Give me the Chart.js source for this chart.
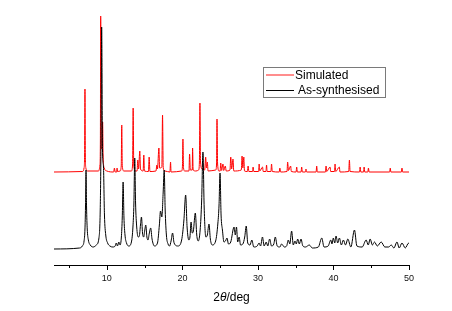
<!DOCTYPE html>
<html>
<head>
<meta charset="utf-8">
<script src="https://cdn.jsdelivr.net/npm/chart.js@4"></script>
<style>
  html, body { margin: 0; padding: 0; background: #fff; }
  #xrd { display: block; }
</style>
</head>
<body>
<canvas id="xrd" width="452" height="311"></canvas>
<script>
// 2theta / intensity pairs (intensity in arbitrary units, offset as plotted)
const simulated = [
  [3, 93],
  [6.8, 93.5], [6.98, 97], [7.05, 110], [7.1, 176], [7.15, 110], [7.22, 97], [7.45, 94],
  [8.9, 94], [9.08, 100], [9.14, 125], [9.18, 249], [9.26, 118], [9.36, 116], [9.44, 143], [9.5, 110], [9.65, 97], [10, 94],
  [10.9, 93], [11.0, 97], [11.1, 93], [11.3, 93], [11.35, 97], [11.42, 93.5],
  [11.75, 94], [11.9, 99], [11.97, 140], [12.04, 99], [12.25, 94],
  [13.25, 94], [13.4, 100], [13.48, 157], [13.56, 100], [13.8, 94],
  [14.0, 94], [14.09, 105], [14.2, 96], [14.36, 114], [14.45, 96], [14.8, 94], [14.89, 110], [14.97, 94],
  [15.5, 93.5], [15.6, 108], [15.7, 93.5],
  [16.5, 94], [16.62, 100], [16.7, 96], [16.89, 117], [16.98, 97], [17.28, 98], [17.37, 150], [17.46, 97], [17.7, 94],
  [18.35, 93], [18.43, 103], [18.5, 93],
  [19.9, 94], [20.0, 98], [20.07, 126], [20.15, 97], [20.3, 94],
  [20.87, 94], [20.95, 111], [21.05, 95], [21.3, 95], [21.35, 117], [21.42, 95], [21.8, 94],
  [22.15, 95], [22.25, 103], [22.32, 162], [22.4, 103], [22.6, 96],
  [22.95, 95], [23.08, 108], [23.18, 97], [23.3, 103], [23.4, 94],
  [24.42, 95], [24.52, 101], [24.58, 146], [24.66, 101], [24.85, 94],
  [25.0, 94], [25.07, 102], [25.2, 94.5], [25.37, 101], [25.47, 94.5], [25.68, 99], [25.8, 94],
  [26.3, 95], [26.4, 108], [26.52, 96], [26.7, 106], [26.8, 94],
  [27.8, 95], [27.9, 109], [28.0, 97], [28.13, 108], [28.22, 94],
  [28.6, 93.5], [28.7, 99], [28.8, 93.5],
  [29.28, 93.5], [29.36, 98], [29.45, 93.5],
  [30.08, 93.5], [30.16, 101], [30.25, 94], [30.61, 98], [30.7, 93.5],
  [31.06, 93.5], [31.14, 100], [31.22, 93.5], [31.72, 93.5], [31.8, 101], [31.9, 93.5],
  [32.82, 93], [32.9, 97], [33.0, 93],
  [33.85, 93.5], [33.93, 103], [34.05, 94.5], [34.33, 99], [34.42, 93.5],
  [35.05, 93], [35.13, 98], [35.22, 93], [35.71, 93], [35.79, 98], [35.88, 93], [36.28, 93], [36.36, 96], [36.45, 93],
  [37.7, 93], [37.78, 99], [37.86, 93],
  [38.94, 93], [39.02, 99], [39.1, 93.5], [39.55, 98], [39.63, 93.5], [40.13, 93.5], [40.21, 101], [40.3, 93.5], [40.78, 98], [40.86, 93],
  [42.02, 93.5], [42.11, 105], [42.2, 93.5],
  [43.45, 93], [43.53, 98], [43.62, 93], [43.98, 93], [44.06, 98], [44.14, 93], [44.55, 93], [44.63, 97], [44.72, 93],
  [47.44, 93], [47.52, 97], [47.6, 93],
  [48.99, 93], [49.07, 97], [49.15, 93],
  [50, 93]
];

const synthesised = [
  [3, 16], [6.4, 17], [6.75, 19], [6.98, 24], [7.1, 36], [7.17, 58], [7.24, 95], [7.31, 58], [7.4, 36], [7.55, 25], [7.8, 20], [8.2, 18],
  [8.6, 20], [8.95, 27], [9.12, 55], [9.22, 120], [9.31, 238], [9.42, 115], [9.55, 98], [9.68, 50], [9.85, 30], [10.1, 22], [10.4, 19],
  [10.8, 18], [11.1, 19], [11.24, 22], [11.4, 19], [11.58, 23], [11.75, 20],
  [11.92, 28], [12.04, 48], [12.15, 83], [12.26, 48], [12.4, 30], [12.6, 22], [12.9, 19],
  [13.25, 23], [13.45, 38], [13.58, 62], [13.69, 107], [13.8, 62], [13.95, 38], [14.15, 28], [14.3, 29], [14.45, 40], [14.58, 48], [14.72, 32], [14.88, 28],
  [15.0, 34], [15.15, 40], [15.3, 28], [15.45, 25], [15.6, 31], [15.8, 37], [15.98, 26], [16.3, 19],
  [16.7, 22], [16.95, 40], [17.1, 54], [17.28, 48], [17.45, 72], [17.59, 95], [17.72, 55], [17.88, 30], [18.1, 21], [18.3, 19],
  [18.5, 24], [18.7, 32], [18.9, 22], [19.4, 19],
  [19.9, 25], [20.2, 45], [20.43, 70], [20.62, 38], [20.85, 25], [21.0, 28], [21.15, 43], [21.3, 32], [21.45, 34], [21.71, 52], [21.9, 30], [22.1, 24],
  [22.35, 35], [22.55, 65], [22.72, 113], [22.88, 58], [23.1, 28], [23.3, 30], [23.52, 41], [23.7, 26], [23.95, 20],
  [24.4, 24], [24.7, 42], [24.85, 60], [24.98, 92], [25.12, 50], [25.3, 35], [25.5, 23], [25.7, 24], [25.9, 27], [26.1, 21],
  [26.4, 23], [26.84, 38], [27.0, 30], [27.16, 38], [27.32, 23], [27.51, 28], [27.7, 20], [28.0, 21], [28.25, 28], [28.45, 39], [28.65, 22],
  [28.95, 20], [29.19, 25], [29.45, 18], [29.9, 19], [30.15, 22], [30.35, 19], [30.6, 28], [30.82, 19], [31.1, 23], [31.3, 19], [31.55, 26], [31.8, 19],
  [32.1, 21], [32.3, 28], [32.55, 19], [32.9, 18], [33.13, 21], [33.5, 18], [33.8, 19], [34.02, 25], [34.22, 21], [34.46, 34], [34.68, 20],
  [34.9, 24], [35.08, 21], [35.26, 26], [35.48, 21], [35.7, 26], [35.95, 19], [36.3, 18], [36.8, 20], [37.2, 17],
  [38.0, 18], [38.45, 27], [38.75, 18], [39.3, 19], [39.64, 25], [39.8, 21], [39.99, 27], [40.17, 22], [40.34, 29], [40.56, 22], [40.78, 27],
  [41.05, 20], [41.31, 25], [41.6, 20], [41.9, 26], [42.3, 18], [42.78, 35], [43.1, 19], [43.8, 18], [44.33, 25], [44.6, 20], [44.86, 26],
  [45.15, 20], [45.43, 23], [45.8, 19], [46.32, 23], [46.8, 18], [47.3, 18], [47.65, 20], [48.0, 17], [48.41, 23], [48.7, 17],
  [49.07, 22], [49.5, 17], [49.95, 22], [50, 21]
];

const seriesNames = ['Simulated', 'As-synthesised'];
const majorTicks = [10, 20, 30, 40, 50];
const minorTicks = [5, 15, 25, 35, 45];

const FONT = '"Liberation Sans", Arial, sans-serif';

// ticks, axis title and the boxed legend, drawn like the Origin original
const decorations = {
  id: 'decorations',
  afterDraw(chart) {
    const ctx = chart.ctx;
    const xs = chart.scales.x;
    const bottom = chart.chartArea.bottom;
    ctx.save();
    ctx.strokeStyle = '#000';
    ctx.lineWidth = 1;
    ctx.beginPath();
    majorTicks.forEach(v => {
      const px = Math.round(xs.getPixelForValue(v)) + 0.5;
      ctx.moveTo(px, bottom); ctx.lineTo(px, bottom + 5);
    });
    minorTicks.forEach(v => {
      const px = Math.round(xs.getPixelForValue(v)) + 0.5;
      ctx.moveTo(px, bottom); ctx.lineTo(px, bottom + 3);
    });
    ctx.stroke();

    // axis title: 2θ/deg with italic theta
    ctx.fillStyle = '#000';
    ctx.textBaseline = 'middle';
    const parts = [['2', '12px ' + FONT], ['θ', 'italic 12px ' + FONT], ['/deg', '12px ' + FONT]];
    let total = 0;
    parts.forEach(p => { ctx.font = p[1]; total += ctx.measureText(p[0]).width; });
    let tx = (chart.chartArea.left + chart.chartArea.right) / 2 - total / 2;
    parts.forEach(p => {
      ctx.font = p[1];
      ctx.fillText(p[0], tx, 298);
      tx += ctx.measureText(p[0]).width;
    });

    // legend box
    ctx.strokeStyle = '#7a7a7a';
    ctx.strokeRect(263.5, 67.5, 122, 30);
    ctx.lineWidth = 1.3;
    ctx.strokeStyle = '#ff5050';
    ctx.beginPath(); ctx.moveTo(266, 75); ctx.lineTo(294, 75); ctx.stroke();
    ctx.lineWidth = 1;
    ctx.strokeStyle = '#000';
    ctx.beginPath(); ctx.moveTo(266, 90.5); ctx.lineTo(294, 90.5); ctx.stroke();
    ctx.font = '12px ' + FONT;
    ctx.fillText(seriesNames[0], 295, 75.5);
    ctx.fillText(seriesNames[1], 298, 90.5);
    ctx.restore();
  }
};

new Chart(document.getElementById('xrd'), {
  type: 'line',
  data: {
    datasets: [
      {
        label: seriesNames[0],
        data: simulated.map(p => ({ x: p[0], y: p[1] })),
        borderColor: '#ff0000',
        borderWidth: 1,
        pointRadius: 0,
        cubicInterpolationMode: 'monotone',
        borderJoinStyle: 'round',
        order: 2
      },
      {
        label: seriesNames[1],
        data: synthesised.map(p => ({ x: p[0], y: p[1] })),
        borderColor: '#000000',
        borderWidth: 1,
        pointRadius: 0,
        cubicInterpolationMode: 'monotone',
        borderJoinStyle: 'round',
        order: 1
      }
    ]
  },
  options: {
    responsive: false,
    animation: false,
    devicePixelRatio: 1,
    layout: { padding: { left: 54, right: 43, top: 10, bottom: 0 } },
    plugins: { legend: { display: false }, tooltip: { enabled: false } },
    scales: {
      x: {
        type: 'linear',
        min: 3,
        max: 50,
        afterBuildTicks: scale => { scale.ticks = majorTicks.map(v => ({ value: v })); },
        afterFit: scale => { scale.height = 46; },
        grid: { display: true, drawOnChartArea: false, drawTicks: false },
        border: { display: true, color: '#000', width: 1 },
        ticks: { color: '#111', font: { family: FONT, size: 9 }, padding: 8, maxRotation: 0 }
      },
      y: {
        display: false,
        min: 0,
        max: 255
      }
    }
  },
  plugins: [decorations]
});
</script>
</body>
</html>
